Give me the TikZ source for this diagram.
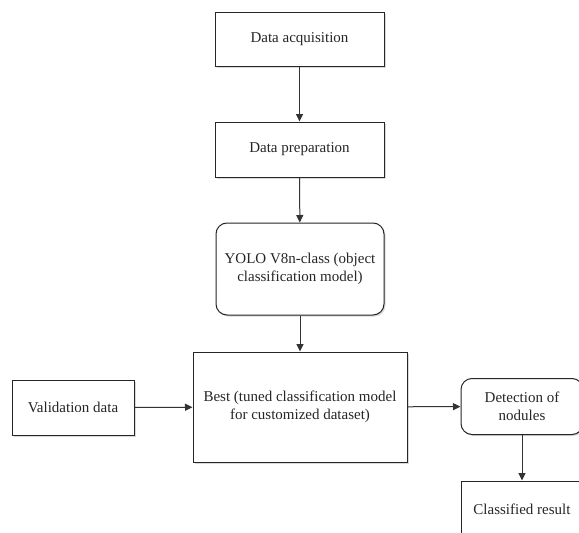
\documentclass[tikz,border=0pt]{standalone}
\usepackage{fontspec}
\setmainfont{Liberation Serif}
\usetikzlibrary{arrows.meta,shadows}

\begin{document}
\begin{tikzpicture}[x=1pt, y=-1pt,
    box/.style={draw=black!85, line width=1pt, fill=white, align=center, inner sep=0pt,
        font=\fontsize{15}{18}\selectfont, text=black!85,
        drop shadow={shadow xshift=1.5pt, shadow yshift=-1.5pt, opacity=0.3}},
    roundbox/.style={box, rounded corners=11pt},
    flow/.style={draw=black!80, line width=1pt, -{Triangle[length=7.5pt,width=7pt]}}]
        % Picture frame, boxes on the right run off the edge
        \clip (0,0) rectangle (579,533);
        % Main column
        \node[box, minimum width=169pt, minimum height=54pt] (acq) at (299.5,39) {Data acquisition};
        \node[box, minimum width=169pt, minimum height=55pt] (prep) at (299.5,149.5) {Data preparation};
        \node[roundbox, minimum width=168pt, minimum height=92pt] (yolo) at (300,269)
            {YOLO V8n-class (object\\classification model)};
        \node[box, minimum width=214pt, minimum height=110pt] (best) at (300,407)
            {Best (tuned classification model\\for customized dataset)};
        % Side boxes
        \node[box, minimum width=122pt, minimum height=55pt] (val) at (73,407.5) {Validation data};
        \node[roundbox, minimum width=122pt, minimum height=56pt] (det) at (522,406.5) {Detection of\\nodules};
        \node[box, minimum width=122pt, minimum height=56pt] (res) at (522,509) {Classified result};
        % Connectors
        \draw[flow] (acq) -- (prep);
        \draw[flow] (prep) -- (yolo);
        \draw[flow] (yolo) -- (best);
        \draw[flow] (val) -- (best);
        \draw[flow] (best) -- (det);
        \draw[flow] (det) -- (res);
    \end{tikzpicture}
\end{document}
